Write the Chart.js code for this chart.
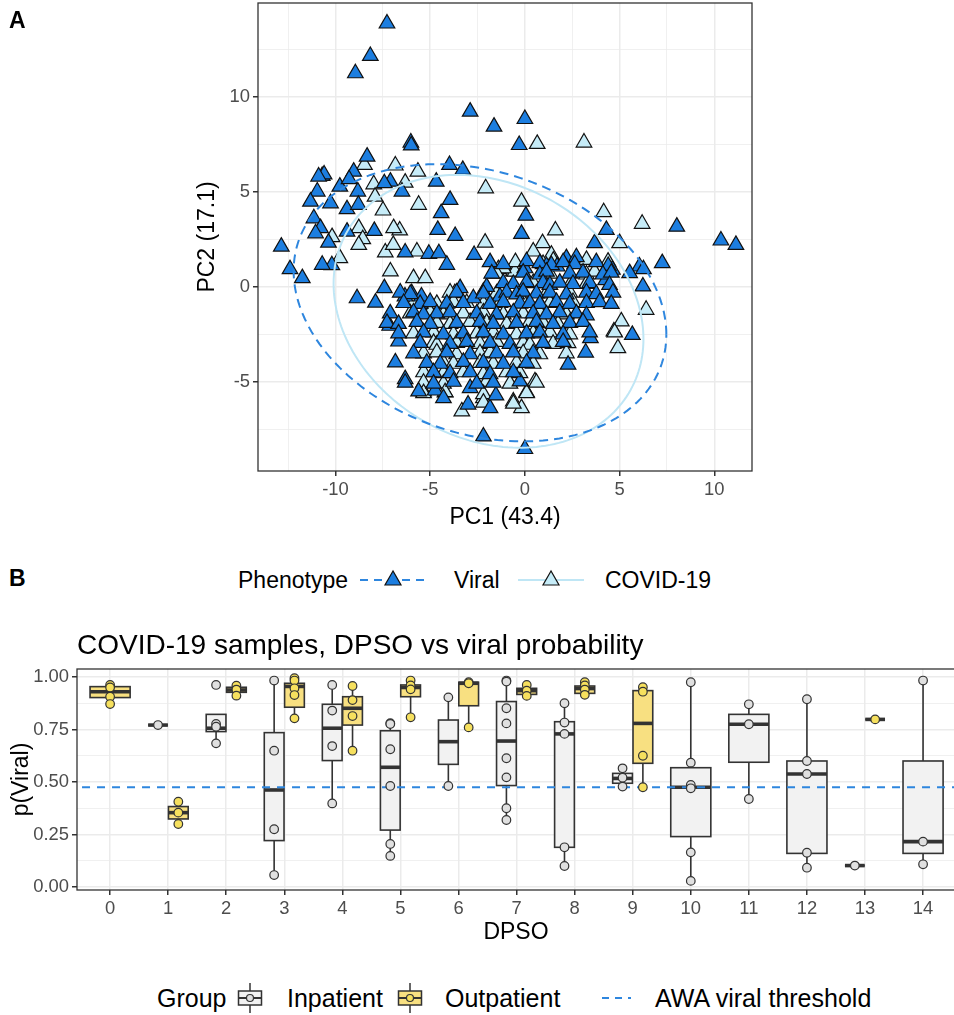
<!DOCTYPE html>
<html>
<head>
<meta charset="utf-8">
<script src="https://cdn.jsdelivr.net/npm/chart.js@4.4.1/dist/chart.umd.min.js"></script>
<style>
  body { margin: 0; width: 954px; height: 1015px; overflow: hidden; background: #fff; position: relative;
         font-family: "Liberation Sans", Arial, Helvetica, sans-serif; color: #000; }
  .abs { position: absolute; white-space: nowrap; }
  .lbl { font-size: 23px; line-height: 28px; }
  .lblb { font-size: 25px; line-height: 30px; }
  svg { display: block; }
</style>
</head>
<body>

<div class="abs" style="left:0;top:0;width:954px;height:540px"><canvas id="pcaChart"></canvas></div>
<div class="abs" style="left:0;top:600px;width:960px;height:360px"><canvas id="dpsoChart"></canvas></div>

<div class="abs" style="left:9px;top:6px;font-size:23px;font-weight:bold;line-height:28px">A</div>
<div class="abs" style="left:9px;top:564px;font-size:23px;font-weight:bold;line-height:28px">B</div>

<!-- legend, panel A -->
<div class="abs lbl" style="left:238px;top:566px">Phenotype</div>
<div class="abs" style="left:360px;top:568px">
  <svg width="66" height="24"><line x1="0" y1="12" x2="66" y2="12" stroke="#2e86de" stroke-width="2" stroke-dasharray="8 6"/>
  <polygon points="33,3 25,17 41,17" fill="#1c7ee0" stroke="#111" stroke-width="1.2"/></svg>
</div>
<div class="abs lbl" style="left:454px;top:566px">Viral</div>
<div class="abs" style="left:518px;top:568px">
  <svg width="66" height="24"><line x1="0" y1="12" x2="66" y2="12" stroke="#bfe6f5" stroke-width="2"/>
  <polygon points="33,3 25,17 41,17" fill="#c6ecf8" stroke="#111" stroke-width="1.2"/></svg>
</div>
<div class="abs lbl" style="left:605px;top:566px">COVID-19</div>

<div class="abs" style="left:77px;top:628px;font-size:28px;line-height:34px">COVID-19 samples, DPSO vs viral probability</div>

<!-- legend, panel B -->
<div class="abs lblb" style="left:157px;top:983px">Group</div>
<div class="abs" style="left:237px;top:983px">
  <svg width="26" height="30"><line x1="13" y1="0" x2="13" y2="30" stroke="#333" stroke-width="1.5"/>
  <rect x="1.5" y="8" width="23" height="14" fill="#f2f2f2" stroke="#333" stroke-width="1.5"/>
  <line x1="1.5" y1="15" x2="24.5" y2="15" stroke="#333" stroke-width="2"/>
  <circle cx="13" cy="15" r="3.5" fill="#e0e0e0" stroke="#333" stroke-width="1.2"/></svg>
</div>
<div class="abs lblb" style="left:287px;top:983px">Inpatient</div>
<div class="abs" style="left:397px;top:983px">
  <svg width="26" height="30"><line x1="13" y1="0" x2="13" y2="30" stroke="#333" stroke-width="1.5"/>
  <rect x="1.5" y="8" width="23" height="14" fill="#f8e081" stroke="#333" stroke-width="1.5"/>
  <line x1="1.5" y1="15" x2="24.5" y2="15" stroke="#333" stroke-width="2"/>
  <circle cx="13" cy="15" r="3.5" fill="#f6e05e" stroke="#333" stroke-width="1.2"/></svg>
</div>
<div class="abs lblb" style="left:445px;top:983px">Outpatient</div>
<div class="abs" style="left:601px;top:983px">
  <svg width="30" height="30"><line x1="1" y1="15" x2="30" y2="15" stroke="#2e86de" stroke-width="2" stroke-dasharray="7 6"/></svg>
</div>
<div class="abs lblb" style="left:655px;top:983px">AWA viral threshold</div>

<script>
// ---------- panel A: PCA ----------
const pcaXMajor = [-10, -5, 0, 5, 10];
const pcaXTicks = [-12.5, -10, -7.5, -5, -2.5, 0, 2.5, 5, 7.5, 10];
const pcaYMajor = [-5, 0, 5, 10];
const pcaYTicks = [-7.5, -5, -2.5, 0, 2.5, 5, 7.5, 10, 12.5];

const viralPoints = [
  [-7.28, 13.87], [-8.16, 12.16], [-8.95, 11.25], [-2.89, 9.23], [-1.63, 8.44], [0, 8.84], [-0.3, 7.47],
  [-6.02, 7.6], [-6.0, 7.45], [8.02, 3.17], [10.35, 2.44], [11.14, 2.21], [4.3, 3.0], [3.68, 2.3],
  [-3.98, 6.42], [-3.28, 6.16], [-4.68, 5.54], [-3.95, 4.58], [-4.42, 3.88], [-4.6, 3.0], [-3.68, 2.68],
  [0.05, 3.75], [-0.18, 2.79], [-8.33, 6.86], [-9.04, 6.07], [-10.7, 5.84], [-10.6, 5.92], [-9.77, 5.28],
  [-10.96, 5.02], [-11.32, 4.49], [-10.26, 4.4], [-9.39, 4.09], [-8.82, 5.02], [-7.1, 5.54], [-7.42, 5.46],
  [-6.49, 5.02], [-11.14, 3.61], [-10.79, 3.09], [-11.05, 2.82], [-9.39, 2.91], [-7.95, 2.95], [-12.86, 2.12],
  [-10.89, 5.81], [-9.28, 5.67], [-8.79, 4.32], [-10.37, 2.33], [-5.07, 1.74], [-4.54, 1.77], [-10.19, 1.14],
  [-12.4, 0.93], [-11.75, 0.46], [-10.7, 1.16], [-8.86, -0.6], [-7.89, -0.83], [-7.42, -0.07], [-6.32, 1.81],
  [-4.12, 1.16], [-2.68, 1.68], [7.25, 1.25], [5.67, -2.53], [6.23, 0.02], [6.05, 1.07], [5.53, 0.72],
  [6.26, 0.93], [4.62, 0.9], [4.26, 0.35], [2.28, -4.1], [3.21, -3.46], [3.46, -2.7], [-6.84, -3.98],
  [-6.32, -4.86], [-6.67, -2.88], [-7.14, -2.05], [-2.19, -7.88], [0, -8.54], [-5.61, -5.51], [-4.74, -5.46],
  [-4.3, -5.86], [-2.89, -5.33], [-1.84, -6.39], [-1.53, -5.72], [-0.26, -4.98], [-6.33, -0.51], [-5.98, -0.33],
  [-5.46, -0.51], [-3.42, -0.07], [-2.72, -0.6], [-2.02, 0], [-1.32, -0.51], [0.0, 0.98], [1.14, 1.1],
  [1.7, 1.07], [2.19, 1.51], [2.72, 1.56],
  [-1.84, 1.3], [-1.14, 1.2], [0.09, 1.35], [0.79, 1.25], [1.4, 1.15], [2.02, 1.3], [2.63, 1.2], [3.77, 1.3], [4.4, 1.1],
  [-1.75, 0.7], [-0.09, 0.75], [0.79, 0.65], [1.14, 0.8], [2.37, 0.7], [3.07, 0.75], [4.12, 0.65], [4.56, 0.75],
  [-1.14, 0.2], [-0.61, 0.15], [0.09, 0.25], [0.96, 0.2], [1.32, 0.1], [1.84, 0.22], [2.54, 0.15], [3.42, 0.2], [4.47, 0.1],
  [-6.58, -0.3], [-6.05, -0.38], [-3.6, -0.3], [-2.19, -0.35], [-0.96, -0.3], [-0.44, -0.4], [-0.09, -0.25],
  [0.61, -0.35], [1.32, -0.3], [2.19, -0.4], [3.25, -0.3], [3.77, -0.38], [4.65, -0.3],
  [-6.4, -0.85], [-5.53, -0.9], [-5.0, -0.8], [-4.12, -0.88], [-3.25, -0.85], [-1.84, -0.9], [-1.14, -0.8],
  [-0.26, -0.88], [0.26, -0.85], [0.79, -0.9], [1.67, -0.8], [2.37, -0.9], [3.25, -0.85], [3.95, -0.8], [4.56, -0.9],
  [-7.11, -1.4], [-5.88, -1.35], [-5.35, -1.45], [-4.65, -1.4], [-3.95, -1.35], [-2.54, -1.4], [-1.49, -1.45],
  [-0.61, -1.35], [0.44, -1.4], [1.14, -1.45], [1.84, -1.35], [2.72, -1.4], [3.25, -1.5],
  [-7.28, -1.9], [-6.67, -1.95], [-5.7, -1.85], [-5.0, -1.95], [-3.6, -1.9], [-2.37, -1.85], [-1.67, -1.95],
  [-0.44, -1.9], [0.61, -1.85], [1.49, -1.95], [2.37, -1.9], [3.07, -1.85],
  [-6.67, -2.45], [-5.35, -2.4], [-4.3, -2.5], [-3.25, -2.45], [-2.19, -2.4], [-1.14, -2.5], [0.09, -2.45],
  [0.79, -2.4], [2.02, -2.5], [3.42, -2.4],
  [-5.53, -2.95], [-3.95, -3.0], [-3.07, -2.9], [-1.84, -2.95], [-0.79, -3.0], [0.96, -2.95], [2.02, -2.9],
  [-5.88, -3.5], [-4.12, -3.45], [-2.89, -3.55], [-1.49, -3.5], [-0.61, -3.45], [0.44, -3.5],
  [-5.18, -4.0], [-4.47, -4.05], [-3.25, -3.95], [-2.19, -4.0], [-1.14, -4.05], [0.09, -4.0],
  [-4.82, -4.5], [-3.95, -4.55], [-2.89, -4.5], [-1.84, -4.6], [-0.61, -4.5],
  [-6.32, -5.05], [-4.82, -5.1], [-3.77, -5.0], [-2.54, -5.1], [-1.67, -5.05], [-3.0, -6.2]
];

const covidPoints = [
  [0.65, 7.53], [3.12, 7.6], [-8.47, 6.42], [-6.84, 6.39], [-5.65, 6.07], [-7.98, 5.4], [-6.32, 5.49],
  [-2.07, 5.19], [-5.61, 4.32], [-7.49, 4.02], [-0.18, 4.49], [4.16, 3.93], [6.19, 3.32], [1.61, 2.97],
  [-8.77, 3.09], [-10.18, 2.62], [-6.61, 2.97], [-6.93, 3.09], [-8.56, 2.51], [-2.1, 2.33], [0.93, 2.3],
  [5.0, 2.3], [-3.33, -6.56], [-2.19, -5.86], [-0.61, -6.04], [-0.18, -6.39], [0.09, -5.56], [0.53, -4.98],
  [-5.35, -5.51], [-4.21, -5.56], [4.91, -3.23], [4.7, -2.35], [5.09, -1.82], [6.4, -1.21], [4.39, 1.33],
  [3.25, 1.42], [2.28, -2.96], [-5.88, 0.46], [-5.26, 0.46], [-7.1, 0.81], [-7.37, 1.81], [-5.7, 1.86],
  [-9.77, 1.51], [-8.77, 2.21], [-1.4, 0.93], [-0.61, 0.81], [-7.91, 4.75], [-6.95, 2.21], [-3.7, -0.33],
  [0.44, 1.86], [1.4, 1.69], [-0.53, 0.8], [-1.14, 0.98],
  [0.96, 1.2], [1.5, 1.38], [-0.5, 1.3],
  [-1.49, 0.7], [1.32, 0.7], [3.25, 0.65], [3.68, 0.8],
  [0.44, 0.2], [2.46, 0.25], [3.25, 0.15],
  [-3.95, -0.3], [-2.19, -0.25], [-1.49, -0.35], [-0.09, -0.3], [1.14, -0.35], [2.37, -0.3],
  [-5.88, -0.85], [-4.65, -0.9], [-3.77, -0.8], [-3.07, -0.85], [-2.19, -0.9], [-1.32, -0.85], [-0.09, -0.8],
  [0.79, -0.9], [1.32, -0.85], [2.54, -0.8],
  [-6.05, -1.4], [-5.0, -1.35], [-4.3, -1.45], [-3.25, -1.4], [-2.19, -1.35], [-1.14, -1.45], [-0.09, -1.4],
  [0.79, -1.35], [2.19, -1.45],
  [-4.65, -1.9], [-3.95, -1.95], [-2.89, -1.85], [-2.02, -1.9], [-0.96, -1.95], [0.26, -1.85], [0.96, -1.9], [1.75, -1.95],
  [-5.88, -2.45], [-4.82, -2.4], [-3.77, -2.5], [-2.54, -2.45], [-1.67, -2.4], [-0.44, -2.5], [0.44, -2.45],
  [1.32, -2.4], [2.37, -2.5], [4.74, -2.4],
  [-4.82, -2.95], [-4.65, -3.05], [-3.6, -2.95], [-2.37, -3.0], [-1.49, -2.9], [-0.09, -2.95], [0.26, -3.05], [1.49, -3.0],
  [-5.35, -3.5], [-4.65, -3.45], [-3.6, -3.55], [-2.37, -3.5], [-1.84, -3.45], [-0.09, -3.5], [0.79, -3.55], [2.19, -3.5],
  [-4.3, -4.0], [-3.77, -4.05], [-2.37, -4.0], [-1.67, -4.05], [-0.44, -4.0], [0.44, -4.05],
  [-5.35, -4.5], [-4.3, -4.55], [-3.25, -4.5], [-2.19, -4.6], [-0.96, -4.5], [-0.26, -4.55],
  [-5.35, -5.05], [-4.3, -5.1], [-2.02, -5.0], [-0.79, -5.1], [0.61, -5.05],
  [-5.35, -5.6], [-4.21, -5.55], [-2.19, -5.65], [0.09, -5.6],
  [-2.19, -6.1], [-0.61, -6.15]
];

// 95% ellipses: centre and covariance (xx, xy, yy) in PC units
const viralEllipseCenter = [-2.37, -0.84];
const viralEllipseCov = [96.8, -16.5, 53.3];
const covidEllipseCenter = [-1.92, -1.29];
const covidEllipseCov = [66.9, -11.9, 51.6];

// ---------- panel B: DPSO boxplots ----------
const dpsoTicks = [0, 1, 2, 3, 4, 5, 6, 7, 8, 9, 10, 11, 12, 13, 14];
const probYMajor = [0, 0.25, 0.5, 0.75, 1];
const probYTicks = [0, 0.125, 0.25, 0.375, 0.5, 0.625, 0.75, 0.875, 1];
const awaThreshold = 0.475;

const inpDpso = [1, 2, 3, 4, 5, 6, 7, 8, 9, 10, 11, 12, 13, 14];
const inpLo  = [0.771, 0.684, 0.057, 0.398, 0.148, 0.481, 0.319, 0.100, 0.478, 0.029, 0.419, 0.092, 0.102, 0.108];
const inpQ1  = [0.771, 0.740, 0.221, 0.602, 0.271, 0.584, 0.483, 0.189, 0.494, 0.240, 0.594, 0.160, 0.102, 0.160];
const inpMed = [0.771, 0.756, 0.462, 0.756, 0.570, 0.692, 0.695, 0.729, 0.517, 0.475, 0.775, 0.538, 0.102, 0.216];
const inpQ3  = [0.771, 0.822, 0.735, 0.870, 0.744, 0.795, 0.883, 0.787, 0.541, 0.568, 0.822, 0.600, 0.102, 0.600];
const inpHi  = [0.771, 0.822, 0.983, 0.962, 0.780, 0.903, 0.983, 0.875, 0.565, 0.975, 0.870, 0.894, 0.102, 0.983];
const inpPoints = [
  [0.771], [0.962, 0.776, 0.763, 0.684], [0.983, 0.649, 0.275, 0.057], [0.962, 0.840, 0.671, 0.398],
  [0.780, 0.776, 0.656, 0.481, 0.205, 0.148], [0.903, 0.481],
  [0.983, 0.978, 0.851, 0.779, 0.613, 0.522, 0.375, 0.319], [0.875, 0.783, 0.729, 0.189, 0.100],
  [0.565, 0.520, 0.478], [0.975, 0.592, 0.486, 0.470, 0.165, 0.029], [0.870, 0.775, 0.419],
  [0.894, 0.600, 0.538, 0.163, 0.092], [0.102], [0.983, 0.216, 0.108]
];

const outDpso = [0, 1, 2, 3, 4, 5, 6, 7, 8, 9, 13];
const outLo  = [0.871, 0.300, 0.911, 0.803, 0.649, 0.808, 0.760, 0.910, 0.910, 0.475, 0.798];
const outQ1  = [0.902, 0.324, 0.927, 0.856, 0.771, 0.906, 0.863, 0.917, 0.922, 0.589, 0.798];
const outMed = [0.930, 0.354, 0.938, 0.955, 0.851, 0.950, 0.970, 0.935, 0.945, 0.779, 0.798];
const outQ3  = [0.954, 0.383, 0.951, 0.970, 0.906, 0.962, 0.975, 0.946, 0.957, 0.935, 0.798];
const outHi  = [0.962, 0.406, 0.959, 0.994, 0.957, 0.983, 0.978, 0.962, 0.978, 0.951, 0.798];
const outPoints = [
  [0.962, 0.950, 0.906, 0.871], [0.406, 0.354, 0.300], [0.959, 0.940, 0.911],
  [0.994, 0.983, 0.946, 0.914, 0.803], [0.957, 0.890, 0.814, 0.649], [0.983, 0.960, 0.941, 0.808],
  [0.975, 0.970, 0.760], [0.962, 0.935, 0.910], [0.975, 0.960, 0.940, 0.915],
  [0.951, 0.930, 0.625, 0.475], [0.798]
];

Chart.defaults.font.family = '"Liberation Sans", Arial, Helvetica, sans-serif';

const GRID = "#ebebeb";
const INK = "#333333";

function gridWidth(majors) {
  return (c) => (c.tick && majors.includes(c.tick.value) ? 1.5 : 0.75);
}

function tickMarkColor(majors) {
  return (c) => (c.tick && majors.includes(c.tick.value) ? INK : "rgba(0,0,0,0)");
}

// fixed axis boxes, no extra room for half tick labels
function fixX(height) {
  return (s) => { s.height = height; s.paddingLeft = 0; s.paddingRight = 0; };
}

function fixY(width) {
  return (s) => { s.width = width; s.paddingTop = 0; s.paddingBottom = 0; };
}

const panelBorder = {
  id: "panelBorder",
  afterDatasetsDraw(chart) {
    const { ctx, chartArea: a } = chart;
    ctx.save();
    ctx.strokeStyle = INK;
    ctx.lineWidth = 1.3;
    ctx.strokeRect(a.left, a.top, a.right - a.left, a.bottom - a.top);
    ctx.restore();
  }
};

function drawEllipse(chart, center, cov, color, dash) {
  const { ctx, chartArea: a, scales: { x, y } } = chart;
  const l11 = Math.sqrt(cov[0]);
  const l21 = cov[1] / l11;
  const l22 = Math.sqrt(cov[2] - l21 * l21);

  ctx.save();
  ctx.beginPath();
  ctx.rect(a.left, a.top, a.right - a.left, a.bottom - a.top);
  ctx.clip();
  ctx.beginPath();
  for (let i = 0; i <= 200; i++) {
    const t = (i / 200) * Math.PI * 2;
    const px = x.getPixelForValue(center[0] + l11 * Math.cos(t));
    const py = y.getPixelForValue(center[1] + l21 * Math.cos(t) + l22 * Math.sin(t));
    if (i === 0) ctx.moveTo(px, py);
    else ctx.lineTo(px, py);
  }
  ctx.strokeStyle = color;
  ctx.lineWidth = 2;
  ctx.setLineDash(dash);
  ctx.stroke();
  ctx.restore();
}

const ellipses = {
  id: "ellipses",
  afterDatasetsDraw(chart) {
    drawEllipse(chart, covidEllipseCenter, covidEllipseCov, "#bfe6f5", []);
    drawEllipse(chart, viralEllipseCenter, viralEllipseCov, "#2e86de", [9, 6]);
  }
};

function toXY(list) {
  return list.map(([x, y]) => ({ x, y }));
}

new Chart(document.getElementById("pcaChart"), {
  type: "scatter",
  data: {
    datasets: [
      {
        label: "Viral",
        data: toXY(viralPoints),
        pointStyle: "triangle",
        pointRadius: 9,
        backgroundColor: "#1c7ee0",
        borderColor: "#111111",
        borderWidth: 1.2
      },
      {
        label: "COVID-19",
        data: toXY(covidPoints),
        pointStyle: "triangle",
        pointRadius: 9,
        backgroundColor: "#c6ecf8",
        borderColor: "#111111",
        borderWidth: 1.2
      }
    ]
  },
  options: {
    responsive: true,
    maintainAspectRatio: false,
    animation: false,
    layout: { autoPadding: false, padding: { left: 190, top: 3, right: 202, bottom: 0 } },
    plugins: { legend: { display: false }, tooltip: { enabled: false } },
    scales: {
      x: {
        type: "linear",
        min: -14.09,
        max: 11.99,
        afterBuildTicks: (s) => { s.ticks = pcaXTicks.map((v) => ({ value: v })); },
        afterFit: fixX(69),
        ticks: {
          autoSkip: false, maxRotation: 0, padding: 3, color: "#4d4d4d", font: { size: 18.4 },
          callback: (v) => (pcaXMajor.includes(v) ? String(v) : "")
        },
        grid: { color: GRID, lineWidth: gridWidth(pcaXMajor), tickLength: 5, tickColor: tickMarkColor(pcaXMajor) },
        border: { display: false },
        title: { display: true, text: "PC1 (43.4)", color: "#000", font: { size: 23 }, padding: { top: 0, bottom: 9 } }
      },
      y: {
        type: "linear",
        min: -9.7,
        max: 14.95,
        afterBuildTicks: (s) => { s.ticks = pcaYTicks.map((v) => ({ value: v })); },
        afterFit: fixY(68),
        ticks: {
          autoSkip: false, padding: 3, color: "#4d4d4d", font: { size: 18.4 },
          callback: (v) => (pcaYMajor.includes(v) ? String(v) : "")
        },
        grid: { color: GRID, lineWidth: gridWidth(pcaYMajor), tickLength: 5, tickColor: tickMarkColor(pcaYMajor) },
        border: { display: false },
        title: { display: true, text: "PC2 (17.1)", color: "#000", font: { size: 23 }, padding: { top: 4, bottom: 0 } }
      }
    }
  },
  plugins: [ellipses, panelBorder]
});

// ---------- panel B ----------
function slot(dpso, side) {
  const both = inpDpso.includes(dpso) && outDpso.includes(dpso);
  return both ? { cx: dpso + side * 0.175, hw: 0.17 } : { cx: dpso, hw: 0.345 };
}

function drawBoxes(chart, dpsoList, lo, q1, med, q3, hi, side, fill) {
  const { ctx, scales: { x, y } } = chart;
  dpsoList.forEach((d, i) => {
    const s = slot(d, side);
    const xc = x.getPixelForValue(s.cx);
    const xl = x.getPixelForValue(s.cx - s.hw);
    const xr = x.getPixelForValue(s.cx + s.hw);
    const yTop = y.getPixelForValue(q3[i]);
    const yBot = y.getPixelForValue(q1[i]);

    ctx.strokeStyle = INK;
    ctx.lineWidth = 1.6;
    ctx.beginPath();
    ctx.moveTo(xc, y.getPixelForValue(hi[i]));
    ctx.lineTo(xc, yTop);
    ctx.moveTo(xc, yBot);
    ctx.lineTo(xc, y.getPixelForValue(lo[i]));
    ctx.stroke();

    ctx.fillStyle = fill;
    ctx.fillRect(xl, yTop, xr - xl, yBot - yTop);
    ctx.strokeRect(xl, yTop, xr - xl, yBot - yTop);

    const yMed = y.getPixelForValue(med[i]);
    ctx.lineWidth = 3.6;
    ctx.beginPath();
    ctx.moveTo(xl, yMed);
    ctx.lineTo(xr, yMed);
    ctx.stroke();
  });
}

const boxes = {
  id: "boxes",
  beforeDatasetsDraw(chart) {
    const { ctx, chartArea: a } = chart;
    ctx.save();
    ctx.beginPath();
    ctx.rect(a.left, a.top, a.right - a.left, a.bottom - a.top);
    ctx.clip();
    drawBoxes(chart, inpDpso, inpLo, inpQ1, inpMed, inpQ3, inpHi, -1, "#f2f2f2");
    drawBoxes(chart, outDpso, outLo, outQ1, outMed, outQ3, outHi, 1, "#f8e081");
    ctx.restore();
  }
};

function pointData(dpsoList, pointsList, side) {
  const out = [];
  dpsoList.forEach((d, i) => {
    pointsList[i].forEach((v) => out.push({ x: slot(d, side).cx, y: v }));
  });
  return out;
}

new Chart(document.getElementById("dpsoChart"), {
  type: "scatter",
  data: {
    datasets: [
      {
        type: "line",
        label: "AWA viral threshold",
        data: [{ x: -1, y: awaThreshold }, { x: 16, y: awaThreshold }],
        borderColor: "#2e86de",
        borderWidth: 2,
        borderDash: [8, 7],
        pointRadius: 0,
        showLine: true,
        order: 3
      },
      {
        label: "Inpatient",
        data: pointData(inpDpso, inpPoints, -1),
        pointRadius: 4.3,
        backgroundColor: "#e0e0e0",
        borderColor: INK,
        borderWidth: 1.2,
        order: 1
      },
      {
        label: "Outpatient",
        data: pointData(outDpso, outPoints, 1),
        pointRadius: 4.3,
        backgroundColor: "#f6e05e",
        borderColor: INK,
        borderWidth: 1.2,
        order: 1
      }
    ]
  },
  options: {
    responsive: true,
    maintainAspectRatio: false,
    animation: false,
    layout: { autoPadding: false, padding: { left: 0, top: 69, right: 5, bottom: 0 } },
    plugins: { legend: { display: false }, tooltip: { enabled: false } },
    scales: {
      x: {
        type: "linear",
        min: -0.57,
        max: 14.55,
        afterBuildTicks: (s) => { s.ticks = dpsoTicks.map((v) => ({ value: v })); },
        afterFit: fixX(70),
        ticks: { autoSkip: false, maxRotation: 0, padding: 3, color: "#4d4d4d", font: { size: 18.4 }, callback: (v) => String(v) },
        grid: { color: GRID, lineWidth: 1.5, tickLength: 5, tickColor: INK },
        border: { display: false },
        title: { display: true, text: "DPSO", color: "#000", font: { size: 23 }, padding: { top: 0, bottom: 14 } }
      },
      y: {
        type: "linear",
        min: -0.0143,
        max: 1.038,
        afterBuildTicks: (s) => { s.ticks = probYTicks.map((v) => ({ value: v })); },
        afterFit: fixY(77),
        ticks: {
          autoSkip: false, padding: 3, color: "#4d4d4d", font: { size: 18.4 },
          callback: (v) => (probYMajor.includes(v) ? v.toFixed(2) : "")
        },
        grid: { color: GRID, lineWidth: gridWidth(probYMajor), tickLength: 5, tickColor: tickMarkColor(probYMajor) },
        border: { display: false },
        title: { display: true, text: "p(Viral)", color: "#000", font: { size: 23 }, padding: { top: 8, bottom: 0 } }
      }
    }
  },
  plugins: [boxes, panelBorder]
});
</script>
</body>
</html>
